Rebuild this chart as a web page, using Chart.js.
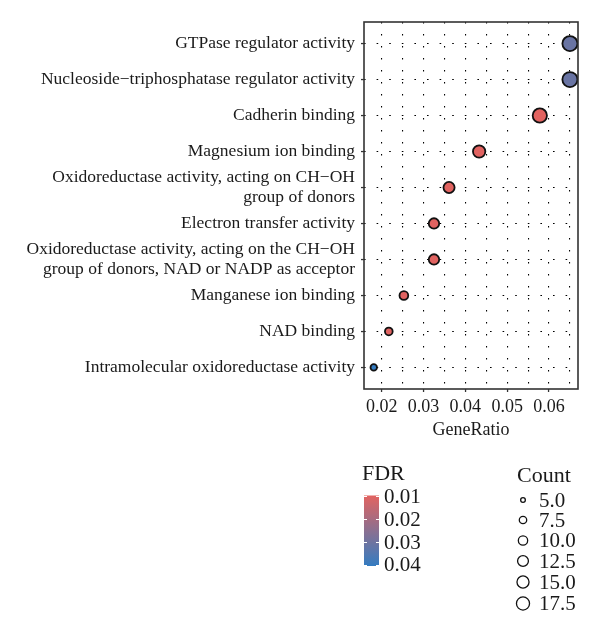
<!DOCTYPE html>
<html><head><meta charset="utf-8">
<script src="https://cdn.jsdelivr.net/npm/chart.js@4.4.1/dist/chart.umd.min.js"></script>
<style>html,body{margin:0;padding:0;background:#fff;}canvas{display:block;}</style>
</head><body><canvas id="c" width="600" height="634"></canvas>
<script>
// ---- data ----
const terms = [
  ["GTPase regulator activity"],
  ["Nucleoside\u2212triphosphatase regulator activity"],
  ["Cadherin binding"],
  ["Magnesium ion binding"],
  ["Oxidoreductase activity, acting on CH\u2212OH", "group of donors"],
  ["Electron transfer activity"],
  ["Oxidoreductase activity, acting on the CH\u2212OH", "group of donors, NAD or NADP as acceptor"],
  ["Manganese ion binding"],
  ["NAD binding"],
  ["Intramolecular oxidoreductase activity"]
];
const geneRatio = [0.0650, 0.0650, 0.0578, 0.0433, 0.0361, 0.0325, 0.0325, 0.0253, 0.0217, 0.0181];
const counts = [18, 18, 16, 12, 10, 9, 9, 7, 6, 5];
const fdr = [0.031, 0.031, 0.0096, 0.0098, 0.0097, 0.0098, 0.0097, 0.0099, 0.0100, 0.0405];
const xMajorTicks = [0.02, 0.03, 0.04, 0.05, 0.06];
const xGridTicks = [0.02, 0.025, 0.03, 0.035, 0.04, 0.045, 0.05, 0.055, 0.06, 0.065];
const fdrTicks = [0.01, 0.02, 0.03, 0.04];
const countBreaks = [5.0, 7.5, 10.0, 12.5, 15.0, 17.5];

// ---- styles ----
const FONT = "'Liberation Serif', 'Times New Roman', serif";
const TXT = '#1a1a1a';
const LOW = [226, 99, 96];   // red  (low FDR)
const HIGH = [52, 124, 193]; // blue (high FDR)
const fdrMin = Math.min(...fdr), fdrMax = Math.max(...fdr);
function colorOf(v) {
  const t = Math.max(0, Math.min(1, (v - fdrMin) / (fdrMax - fdrMin)));
  const c = LOW.map((l, i) => Math.round(l + (HIGH[i] - l) * t));
  return `rgb(${c[0]},${c[1]},${c[2]})`;
}
function outerR(c) { return 3.35 * Math.log(c) - 2.39; }

const points = geneRatio.map((g, i) => ({ x: g, y: i }));

const decor = {
  id: 'decor',
  afterDatasetsDraw(chart) {
    const { ctx, chartArea: a } = chart;
    ctx.save();
    ctx.strokeStyle = '#333';
    ctx.lineWidth = 1.6;
    ctx.setLineDash([]);
    ctx.strokeRect(a.left, a.top, a.right - a.left, a.bottom - a.top);
    ctx.restore();
  },
  afterDraw(chart) {
    const { ctx, chartArea: a } = chart;
    ctx.save();
    ctx.fillStyle = TXT;
    ctx.font = `18px ${FONT}`;
    ctx.textAlign = 'center';
    ctx.textBaseline = 'alphabetic';
    ctx.fillText('GeneRatio', (a.left + a.right) / 2, 435);

    // FDR colourbar legend
    ctx.textAlign = 'left';
    ctx.font = `22px ${FONT}`;
    ctx.fillText('FDR', 362, 480);
    const bx = 364, bw = 15, bt = 495.5, bb = 566;
    const grad = ctx.createLinearGradient(0, bt, 0, bb);
    for (let k = 0; k <= 10; k++) grad.addColorStop(k / 10, colorOf(fdrMin + (fdrMax - fdrMin) * k / 10));
    ctx.fillStyle = grad;
    ctx.fillRect(bx, bt, bw, bb - bt);
    const yOfF = v => bt + (v - fdrMin) / (fdrMax - fdrMin) * (bb - bt);
    ctx.strokeStyle = '#fff';
    ctx.lineWidth = 1;
    ctx.font = `21px ${FONT}`;
    ctx.textBaseline = 'middle';
    fdrTicks.forEach(v => {
      const y = Math.round(yOfF(v)) + 0.5;
      ctx.beginPath();
      ctx.moveTo(bx, y); ctx.lineTo(bx + 3, y);
      ctx.moveTo(bx + bw - 3, y); ctx.lineTo(bx + bw, y);
      ctx.stroke();
      ctx.fillStyle = TXT;
      ctx.fillText(v.toFixed(2), 384, yOfF(v) + 1);
    });

    // Count size legend
    ctx.textBaseline = 'alphabetic';
    ctx.font = `22px ${FONT}`;
    ctx.fillText('Count', 517, 482);
    const rowsY = [500, 520, 540.5, 561, 582, 603.5];
    ctx.font = `21px ${FONT}`;
    ctx.textBaseline = 'middle';
    countBreaks.forEach((c, i) => {
      ctx.beginPath();
      ctx.strokeStyle = '#111';
      ctx.lineWidth = 1.3;
      ctx.arc(523, rowsY[i], outerR(c) - 0.65, 0, Math.PI * 2);
      ctx.stroke();
      ctx.fillStyle = TXT;
      ctx.fillText(c.toFixed(1), 539, rowsY[i] + 1);
    });
    ctx.restore();
  }
};

new Chart(document.getElementById('c'), {
  type: 'scatter',
  data: {
    datasets: [{
      data: points,
      backgroundColor: ctx => colorOf(fdr[ctx.dataIndex]),
      borderColor: '#111',
      borderWidth: 1.8,
      pointRadius: ctx => outerR(counts[ctx.dataIndex]) + 0.25,
      pointHoverRadius: ctx => outerR(counts[ctx.dataIndex]) + 0.25
    }]
  },
  options: {
    responsive: false,
    animation: false,
    devicePixelRatio: 1,
    layout: { padding: { top: 22, right: 22, bottom: 0, left: 0 } },
    plugins: { legend: { display: false }, tooltip: { enabled: false } },
    scales: {
      x: {
        type: 'linear',
        min: 0.01577, max: 0.06693,
        afterBuildTicks: s => { s.ticks = xGridTicks.map(v => ({ value: v })); },
        afterFit: s => { s.height = 245; },
        border: { display: false, dash: [1.6, 10.4] },
        grid: {
          color: '#000', lineWidth: 1.1,
          tickLength: 3,
          tickBorderDash: [10, 0],
          tickColor: c => (c.tick && xMajorTicks.some(m => Math.abs(m - c.tick.value) < 1e-6)) ? '#333' : 'rgba(0,0,0,0)',
          tickWidth: 1.3
        },
        ticks: {
          autoSkip: false, maxRotation: 0, padding: 4,
          color: TXT, font: { family: FONT, size: 18 },
          callback: v => xMajorTicks.some(m => Math.abs(m - v) < 1e-6) ? v.toFixed(2) : ''
        }
      },
      y: {
        type: 'linear',
        reverse: true,
        min: -0.6, max: 9.6,
        afterBuildTicks: s => { s.ticks = terms.map((t, i) => ({ value: i })); },
        afterFit: s => { s.width = 364; },
        border: { display: false, dash: [1.6, 11] },
        grid: {
          color: '#000', lineWidth: 1.1,
          tickLength: 3,
          tickBorderDash: [10, 0],
          tickColor: '#333',
          tickWidth: 1.3
        },
        ticks: {
          autoSkip: false, padding: 6,
          color: TXT, font: { family: FONT, size: 17.5, lineHeight: 1.15 },
          callback: v => terms[v]
        }
      }
    }
  },
  plugins: [decor]
});
</script>
</body></html>
